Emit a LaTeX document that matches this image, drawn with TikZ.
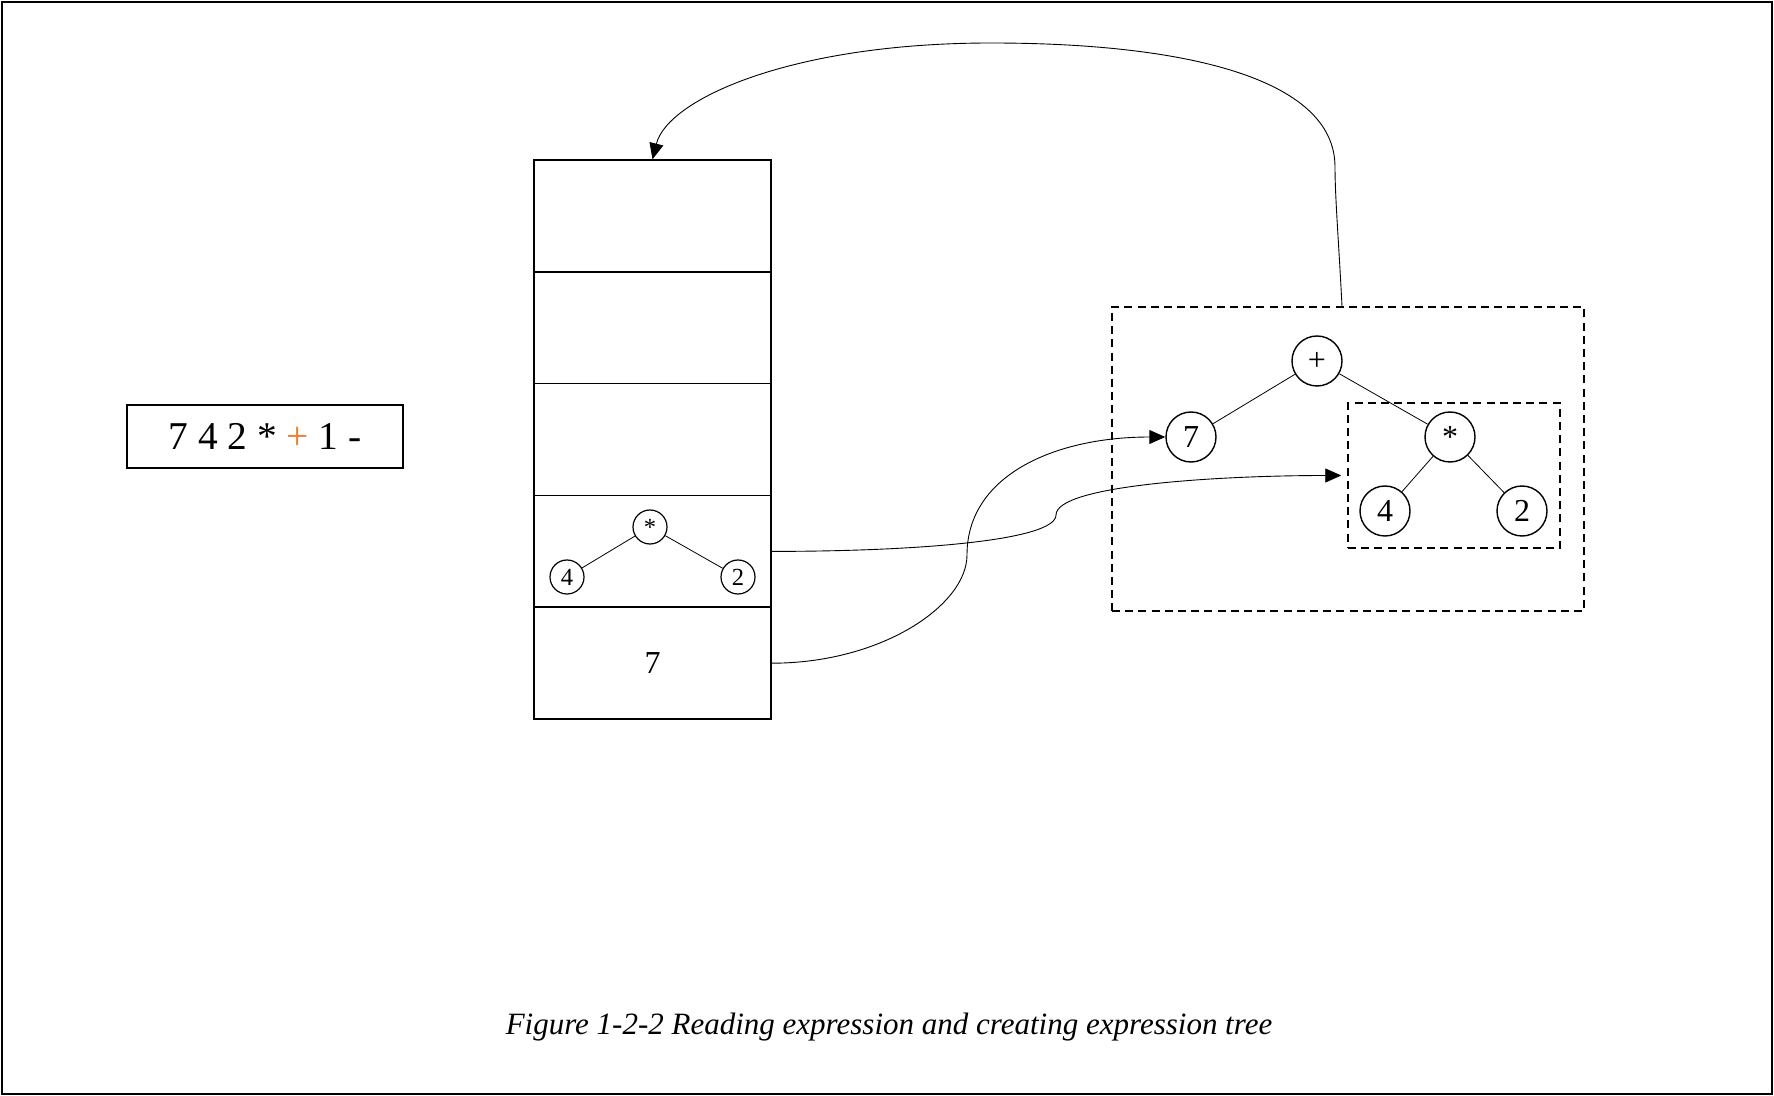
\documentclass[tikz,border=0pt]{standalone}
\usepackage{fontspec}
\setmainfont{Liberation Serif}
\usetikzlibrary{arrows.meta}
\definecolor{opor}{RGB}{237,125,49}
\begin{document}
\begin{tikzpicture}[x=0.5pt,y=-0.5pt,
  stackrow/.style={draw,line width=0.8pt,minimum width=118.5pt,minimum height=55.9pt,inner sep=0pt},
  bignode/.style={draw,circle,line width=0.7pt,minimum size=25pt,inner sep=0pt,font=\fontsize{16}{18}\selectfont},
  smallnode/.style={draw,circle,line width=0.6pt,minimum size=17pt,inner sep=0pt,font=\fontsize{12.3}{14}\selectfont},
  dbox/.style={draw,dashed,dash pattern=on 4pt off 2.6pt,line width=0.75pt,inner sep=0pt},
  edge/.style={line width=0.4pt},
  arr/.style={line width=0.45pt,-{Triangle[length=8pt,width=7pt]}}]
\useasboundingbox (0,0) rectangle (1774,1096);
\draw[line width=0.6pt] (2,2) rectangle (1772,1094);
% expression
\node[draw,line width=0.8pt,minimum width=138pt,minimum height=31.5pt,inner sep=0pt,font=\fontsize{19.7}{22}\selectfont] (expr) at (265,436.5) {7 4 2 * \textcolor{opor}{+} 1 -};
% stack
\node[stackrow] (r1) at (652.5,216) {};
\node[stackrow] (r2) at (652.5,327.8) {};
\node[stackrow] (r3) at (652.5,439.6) {};
\node[stackrow] (r4) at (652.5,551.4) {};
\node[stackrow,font=\fontsize{16}{18}\selectfont] (r5) at (652.5,663.2) {7};
% small tree in stack
\node[smallnode] (sm) at (650,527) {*};
\node[smallnode] (s4) at (567,577) {4};
\node[smallnode] (s2) at (738,577) {2};
\draw[edge] (sm) -- (s4);
\draw[edge] (sm) -- (s2);
% big tree
\node[dbox,minimum width=236pt,minimum height=152pt] (outer) at (1348,459) {};
\node[dbox,minimum width=106pt,minimum height=72.5pt] (inner) at (1454,475.5) {};
\node[bignode] (bp) at (1317,361) {+};
\node[bignode] (b7) at (1191,437) {7};
\node[bignode] (bm) at (1450,437) {*};
\node[bignode] (b4) at (1385,511) {4};
\node[bignode] (b2) at (1522,511) {2};
\draw[edge] (bp) -- (b7);
\draw[edge] (bp) -- (bm);
\draw[edge] (bm) -- (b4);
\draw[edge] (bm) -- (b2);
% arrows
\draw[arr] (r4.east) .. controls +(150,0) and +(0,25) .. (1056,515) .. controls +(0,-30) and +(-120,0) .. ([xshift=-3pt]inner.west);
\draw[arr] (r5.east) .. controls +(110,0) and +(0,50) .. (967,555) .. controls +(0,-80) and +(-110,0) .. (b7.west);
\draw[arr] ([xshift=-3pt]outer.north) .. controls +(-3,-60) and +(0,30) .. (1335,167) .. controls +(0,-90) and +(190,0) .. (991,43) .. controls +(-200,0) and +(15,-60) .. (r1.north);
% caption
\node[font=\fontsize{15.5}{18}\selectfont\itshape] (cap) at (889,1027) {Figure 1-2-2 Reading expression and creating expression tree};
\end{tikzpicture}
\end{document}
